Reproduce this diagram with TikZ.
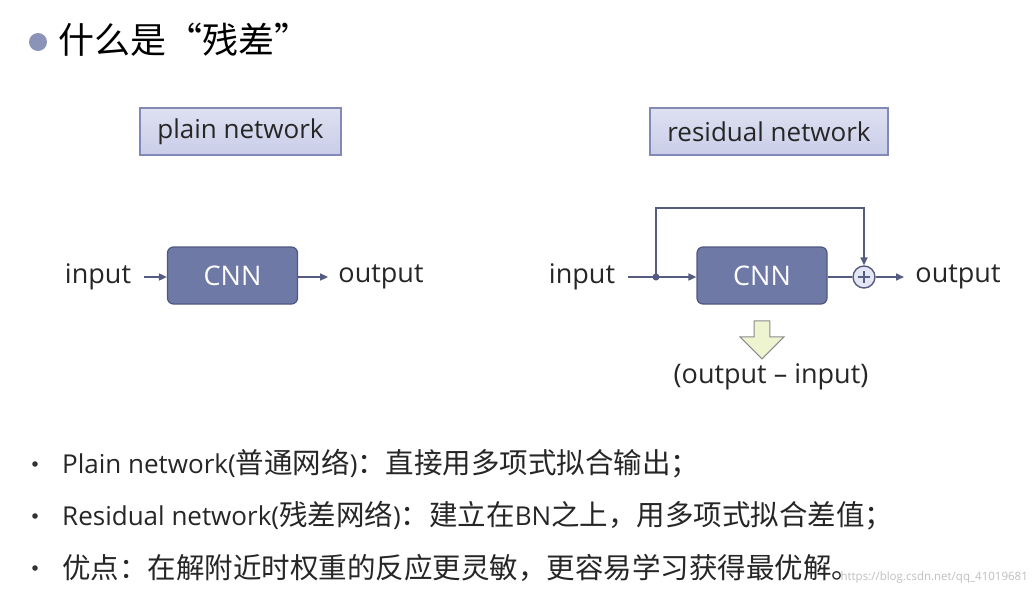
\documentclass[tikz,border=0pt]{standalone}
\usepackage{fontspec}
\setmainfont{Open Sans}
\newfontfamily\cjk{Noto Sans CJK SC}
\newcommand{\zh}[1]{{\fontsize{28.5}{28.5}\selectfont\cjk #1}}
\usetikzlibrary{arrows.meta,shapes.arrows}
\definecolor{ln}{HTML}{555C80}
\definecolor{cnnf}{HTML}{6E79A6}
\definecolor{cnnb}{HTML}{4F5884}
\definecolor{lbf}{HTML}{C9CDE8}
\definecolor{lbb}{HTML}{8289B5}
\definecolor{daf}{HTML}{EEF3D0}
\begin{document}
\begin{tikzpicture}[x=1pt,y=-1pt,
  lab/.style={draw=lbb,line width=1.2pt,top color=lbf!60,bottom color=lbf,minimum height=47pt,font=\fontsize{26}{26}\selectfont,text=black!85,inner sep=0pt},
  cnn/.style={draw=cnnb,line width=1.2pt,fill=cnnf,rounded corners=6pt,minimum width=130pt,minimum height=57pt,text=white,font=\fontsize{27}{27}\selectfont},
  txt/.style={font=\fontsize{27}{27}\selectfont,text=black!85,inner sep=0pt},
  con/.style={draw=ln,line width=1.6pt},
  arr/.style={con,-{Triangle[length=8pt,width=7pt]}},
  bl/.style={anchor=west,font=\fontsize{26}{26}\selectfont,text=black!85,inner sep=0pt}]
\useasboundingbox (0,0) rectangle (1033,595);
\fill[white] (0,0) rectangle (1033,595);
\fill[cnnf!80] (38,42) circle (9);
\node[anchor=west,inner sep=0pt,font=\fontsize{36}{36}\selectfont\cjk] (title) at (58,40) {什么是“残差”};
\node[lab,minimum width=201pt] (pl) at (240.5,131.5) {plain network};
\node[lab,minimum width=238pt] (rl) at (769,131.5) {residual network};
% plain
\node[txt] (in1) at (98,277) {input};
\node[cnn] (c1) at (232.5,275.5) {CNN};
\node[txt] (out1) at (381,277) {output};
\draw[arr] (in1.east)++(13,0) coordinate(a1) -- (c1.west|-a1);
\draw[arr] (c1.east|-a1) -- ++(30,0) coordinate (b1);
% residual
\node[txt] (in2) at (582,277) {input};
\node[cnn] (c2) at (762,275.5) {CNN};
\node[draw=ln,line width=1.4pt,fill=lbf!50,circle,minimum size=22pt,inner sep=0pt] (plus) at (864,277) {};
\draw[ln,line width=1.4pt] (plus.center)++(-6,0) -- ++(12,0) (plus.center)++(0,-6) -- ++(0,12);
\node[txt] (out2) at (958,277) {output};
\coordinate (d) at (656,277);
\coordinate (s) at (628,277);
\draw[con] (s) -- (d);
\draw[arr] (d) -- (c2.west|-d);
\fill[ln] (d) circle (3.5);
\draw[arr] (d) -- (656,208) -| (plus.north);
\draw[con] (c2.east|-plus) -- (plus.west);
\draw[arr] (plus.east) -- (904,277);
\node[single arrow,shape border rotate=270,draw=black!45,fill=daf,line width=1pt,minimum width=44pt,minimum height=38pt,single arrow head extend=10pt,inner sep=5pt] (da) at (762,336) {};
\node[txt] (oi) at (771,377) {(output – input)};
% bullets
\foreach \y in {464,516,568} \fill[black!80] (35,\y) circle (2.8);
\node[bl] (t1) at (62,464) {Plain network(\zh{普通网络})\zh{：直接用多项式拟合输出；}};
\node[bl] (t2) at (62,516) {Residual network(\zh{残差网络})\zh{：建立在}BN\zh{之上，用多项式拟合差值；}};
\node[bl] (t3) at (62,568) {\zh{优点：在解附近时权重的反应更灵敏，更容易学习获得最优解。}};
\node[anchor=east,inner sep=0pt,font=\fontsize{11.5}{11.5}\selectfont,text=black!25] (wm) at (1028,578) {https://blog.csdn.net/qq\_41019681};
\end{tikzpicture}
\end{document}
